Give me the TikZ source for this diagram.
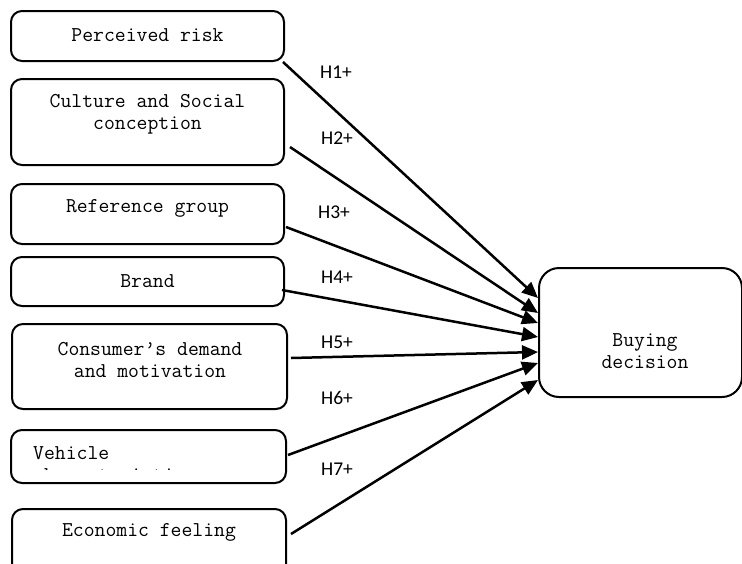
\documentclass[tikz,border=0pt]{standalone}
\usepackage{fontspec}
\newfontfamily\labelfont{Carlito}
\usetikzlibrary{arrows.meta}

\begin{document}
\begin{tikzpicture}[x=1pt, y=-1pt, line join=round,
    box/.style={draw, line width=2pt, rounded corners=11pt, inner sep=0pt},
    boxtext/.style={font=\ttfamily\fontsize{21.1}{22}\selectfont, align=center, inner sep=0pt},
    hyp/.style={font=\labelfont\fontsize{19.5}{22}\selectfont, inner sep=0pt},
    link/.style={line width=2.5pt, -{Triangle[length=16pt,width=14pt]}}]

    \useasboundingbox (0,0) rectangle (742,563);

    % facteurs (boites de gauche)
    \node[box, minimum width=273pt, minimum height=50pt] (risk) at (147.5,36) {};
    \node[box, minimum width=273pt, minimum height=86pt] (cult) at (147.5,122) {};
    \node[box, minimum width=273pt, minimum height=60pt] (ref) at (147.5,214) {};
    \node[box, minimum width=273pt, minimum height=49pt] (brand) at (147.5,281.5) {};
    \node[box, minimum width=275pt, minimum height=85pt] (cons) at (149.5,366.5) {};
    \node[box, minimum width=275pt, minimum height=53pt] (veh) at (148.5,456.5) {};
    \node[box, minimum width=274pt, minimum height=68pt] (econ) at (149,543) {};

    % textes des facteurs
    \node[boxtext] (risk-t) at (147.5,35) {Perceived risk};
    \node[boxtext] (cult-t) at (147.5,114) {Culture and Social\\conception};
    \node[boxtext] (ref-t) at (147.5,208) {Reference group};
    \node[boxtext] (brand-t) at (147.5,281) {Brand};
    \node[boxtext] (cons-t) at (150,360) {Consumer\textquoteright s demand\\and motivation};
    \node[boxtext] (econ-t) at (149,532) {Economic feeling};

    % texte coupe dans la boite du vehicule
    \begin{scope}
        \clip (0,0) rectangle (742,469);
        \node[boxtext, align=left, anchor=north west] (veh-t) at (33,446) {Vehicle\\characteristics};
    \end{scope}

    % decision d'achat
    \node[box, rounded corners=20pt, minimum width=203pt, minimum height=129pt] (buy) at (640.5,332.5) {};
    \node[boxtext] (buy-t) at (645,351) {Buying\\decision};

    % hypotheses
    \draw[link] ([xshift=-2pt]risk.south east) -- ([yshift=34.5pt]buy.west);
    \draw[link] ([xshift=5pt,yshift=-25pt]cult.east) -- ([yshift=19.5pt]buy.west);
    \draw[link] ([xshift=1pt,yshift=-13pt]ref.east) -- ([yshift=9.5pt]buy.west);
    \draw[link] ([xshift=-3pt,yshift=-8.5pt]brand.east) -- ([yshift=-4.5pt]buy.west);
    \draw[link] ([xshift=3pt,yshift=8.5pt]cons.east) -- ([yshift=-19.5pt]buy.west);
    \draw[link] ([xshift=1pt,yshift=1.5pt]veh.east) -- ([yshift=-30.5pt]buy.west);
    \draw[link] ([xshift=4pt,yshift=9pt]econ.east) -- ([yshift=-47.5pt]buy.west);

    % etiquettes
    \foreach \n/\x/\y in {1/336/72, 2/337/138, 3/334/212, 4/337/277, 5/337/342, 6/337/398, 7/337/469} {
        \node[hyp] (h\n) at (\x,\y) {H\n+};
    }

\end{tikzpicture}
\end{document}
